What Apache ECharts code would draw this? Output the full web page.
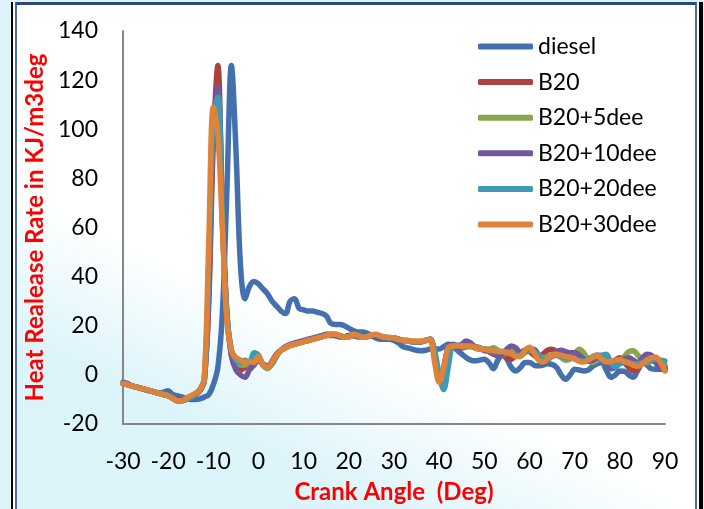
<!DOCTYPE html>
<html>
<head>
<meta charset="utf-8">
<script src="https://cdn.jsdelivr.net/npm/echarts@6/dist/echarts.min.js"></script>
<style>
  html, body { margin: 0; padding: 0; }
  body {
    width: 704px; height: 509px; overflow: hidden; position: relative;
    background: #dff4f9;
  }
  .frame {
    position: absolute; left: 11px; top: 2px; width: 692px; height: 520px;
    border-left: 2px solid #000; border-right: 4px solid #000;
    box-sizing: border-box; background: #fff;
  }
  .inner {
    position: absolute; left: 2px; top: 0; right: 2px; bottom: 0;
    border-left: 2px solid #4a6fa5; border-right: 2px solid #4a6fa5; border-top: 3px solid #2c4a78;
    background:
      linear-gradient(205deg, rgba(255,255,255,0) 60%, rgba(205,240,248,0.7) 78%, rgba(215,243,250,0.9) 100%);
  }
  #echart { position: absolute; left: 0; top: 0; width: 704px; height: 509px; }
</style>
</head>
<body>
<div class="frame"><div class="inner"></div></div>
<div id="echart"></div>
<script>
// crank angle (deg)
var angles = [
  -30, -29, -28, -27, -26, -25, -24, -23, -22, -21,
  -20, -19, -18, -17, -16, -15, -14, -13, -12, -11,
  -10, -9, -8, -7, -6, -5, -4, -3, -2, -1,
  0, 1, 2, 3, 4, 5, 6, 7, 8, 9,
  10, 11, 12, 13, 14, 15, 16, 17, 18, 19,
  20, 21, 22, 23, 24, 25, 26, 27, 28, 29,
  30, 31, 32, 33, 34, 35, 36, 37, 38, 39,
  40, 41, 42, 43, 44, 45, 46, 47, 48, 49,
  50, 51, 52, 53, 54, 55, 56, 57, 58, 59,
  60, 61, 62, 63, 64, 65, 66, 67, 68, 69,
  70, 71, 72, 73, 74, 75, 76, 77, 78, 79,
  80, 81, 82, 83, 84, 85, 86, 87, 88, 89, 90
];

var diesel = [
  -3.5, -4, -4.5, -5, -5.5, -6, -6.5, -7, -7.5, -7,
  -6.5, -8, -8.5, -9, -9.5, -10, -10, -9.8, -9, -8,
  -4, 3, 25, 75, 126, 92, 45, 31, 36, 38,
  37, 35, 33, 30, 28, 26, 25, 30, 31, 27,
  26.5, 26, 26, 25.5, 25, 24, 21, 20.5, 20.5, 20,
  19, 18, 17.5, 17.5, 17, 16, 15, 14.5, 14.5, 14.5,
  14, 13, 11.5, 11, 10.5, 10, 9.8, 10, 10.5, 10.5,
  10.5, 11.5, 12.5, 12, 10, 8.5, 7, 6, 5.7, 6,
  6.4, 5, 2.5, 6, 8, 6.4, 3, 1.6, 3, 5,
  5, 4, 3.7, 4, 4.5, 4.3, 3, 0, -1.8, 0,
  2.3, 2, 1.6, 2, 3.5, 4.5, 5, 2, -1, 0,
  1.6, 1.5, 0, -1, 2, 5, 4, 2.5, 2.3, 2.3, 2.3
];

var b20 = [
  -3.5, -4, -4.5, -5, -5.5, -6, -6.5, -7, -7.5, -8,
  -8.5, -9.5, -10, -10.5, -10, -9, -8, -6.5, -2, 30,
  95, 126, 65, 25, 8, 3, 2, 3, 5, 5.5,
  6, 4, 3.5, 5.5, 8.5, 10, 11, 12, 12.5, 13,
  13.5, 14, 14.5, 15, 15.5, 16, 16, 16, 15.5, 15.5,
  16, 16, 15.5, 15.5, 16, 16, 15.5, 15.5, 15, 15,
  15, 14.5, 14, 14, 13.5, 13.5, 13.5, 14, 14.5, 8,
  -1, 3, 11, 12, 11.5, 11, 11.5, 12, 11.5, 11,
  10, 9.5, 8.5, 8, 9, 7, 6.4, 8, 9, 10,
  9.5, 8, 7, 8.5, 10, 10.4, 9.5, 7.5, 6.5, 7,
  8, 8.5, 7, 6, 7, 8, 7.5, 6, 5, 6,
  7, 5, 3, 1.6, 2.5, 5, 6.5, 6, 5, 4, 3
];

var b20_5dee = [
  -3.5, -4, -4.5, -5, -5.5, -6, -6.5, -7, -7.5, -8,
  -8.5, -9.5, -10.5, -10.5, -10, -9, -8, -6, -2, 40,
  104, 110, 62, 24, 10, 6, 4, 4, 5, 5,
  7, 4, 2.5, 4.5, 8, 10, 11, 12, 12.5, 13,
  13.5, 14, 14.5, 15, 15.5, 16, 16.3, 16.3, 16, 15.5,
  15.5, 16, 16, 15.5, 15.5, 16, 16.3, 15.8, 15.3, 15,
  15, 14.5, 14, 13.8, 13.5, 13.5, 13.5, 14, 14.5, 7,
  -2, 2, 11, 12, 12, 11.5, 11.5, 12, 11.5, 11,
  10.5, 10.5, 11, 10, 8.5, 9, 10.5, 9, 8, 9,
  10, 9.5, 8, 7, 7.5, 8, 8, 7, 6, 6.5,
  8.5, 10.4, 9, 6, 5, 6, 7.5, 6.5, 4, 3.5,
  5, 7.5, 9.5, 9.8, 8, 6, 5, 5.5, 6, 5, 4
];

var b20_10dee = [
  -3, -3.5, -4.5, -5, -5.5, -6, -6.5, -7, -7.5, -8,
  -8.5, -9.5, -10.5, -10.5, -10, -9, -8, -6.5, -2.5, 35,
  100, 117, 68, 25, 8, 2, 0, -1, 2, 4,
  6, 4.5, 3.5, 5, 8, 10, 11.5, 12.5, 13, 13.5,
  14, 14.5, 15, 15.5, 16, 16.5, 16.5, 16, 15.5, 15.5,
  16, 16, 15.5, 15.5, 16, 16, 15.5, 15.5, 15, 15,
  15, 14.5, 14, 14, 13.5, 13.5, 13.5, 14, 14.5, 8,
  0, 3, 11, 12.5, 12, 12.5, 13.8, 13, 11, 10.5,
  10, 9.5, 8.5, 7.7, 8.5, 10.5, 11.8, 11, 9, 9.5,
  10.5, 10.4, 8, 5, 6, 8, 9.5, 10, 9.5, 9,
  9, 8, 6.5, 5.5, 6, 7, 6.5, 5, 2.5, 3,
  5, 6.5, 7, 6, 5, 7, 8.4, 8, 5, 2.5, 2.5
];

var b20_20dee = [
  -3.5, -4, -4.5, -5, -5.5, -6, -6.5, -7, -7.5, -8,
  -8.5, -9.5, -10.5, -10.5, -10, -9, -8, -6.5, -2, 45,
  105, 113, 64, 24, 10, 6, 5, 6, 5, 9,
  8, 4, 3, 4.5, 7.5, 10, 11, 12, 12.5, 13,
  13.5, 14, 14.5, 15, 15.5, 16, 16.5, 16.5, 16, 15.5,
  15.5, 16.3, 16, 15.5, 15.5, 16, 16.3, 15.8, 15.3, 15,
  15, 14.5, 14, 13.8, 13.5, 13.5, 13.5, 14, 14.5, 10,
  0, -6, 3, 11.8, 12, 12, 11.5, 11.5, 11, 10.5,
  10.5, 10, 10, 9.5, 9.5, 9, 8.5, 8, 8, 9.5,
  10.5, 9.5, 8, 6.5, 6.5, 7.5, 8, 7.5, 7, 7,
  6.5, 6, 5.5, 6.5, 7.5, 8, 8, 8.4, 5, 3.3,
  4.5, 5, 5, 4.5, 4.5, 5, 5.5, 6, 6.5, 6, 5.7
];

var b20_30dee = [
  -3.5, -4, -4.5, -5, -5.5, -5.8, -6.5, -7, -7.5, -8,
  -8.5, -9.5, -10.5, -10.5, -9.5, -8.5, -7.5, -6, -1, 55,
  109, 98, 60, 22, 10, 7, 6, 5, 5.5, 5,
  7.5, 4, 3, 5, 8, 10, 11, 12, 12.5, 13,
  13.5, 14, 14.5, 15, 15.5, 16, 16.5, 16.5, 16, 15.3,
  15.5, 16.5, 16, 15.3, 15.5, 16.3, 16.5, 15.8, 15.3, 15.3,
  15, 14.5, 14, 13.8, 13.8, 13.8, 13.8, 14, 14.5, 5,
  -3, 3, 11, 11.8, 11.8, 11.8, 11.8, 11.8, 11, 10.5,
  10.5, 10, 9.8, 9.5, 9.5, 9.2, 8.5, 7.5, 7.5, 10,
  11.2, 9, 6, 5.2, 6.5, 8, 8.4, 8, 7.5, 7.2,
  6.5, 5.5, 5.2, 6, 7.2, 7.7, 6.5, 5.2, 5.5, 6,
  6.2, 5.5, 4.8, 4, 3.5, 4.5, 6, 7, 7.2, 5, 1.6
];

var seriesNames = ["diesel", "B20", "B20+5dee", "B20+10dee", "B20+20dee", "B20+30dee"];
var seriesData = [diesel, b20, b20_5dee, b20_10dee, b20_20dee, b20_30dee];
var colors = ["#4471ad", "#aa433f", "#8aa64c", "#71589a", "#3f9ab3", "#e0833a"];

var font = "Lato, 'Open Sans', sans-serif";

function pairs(values) {
  var out = [];
  for (var i = 0; i < angles.length; i++) {
    out.push([angles[i], values[i]]);
  }
  return out;
}

var chart = echarts.init(document.getElementById("echart"));

var option = {
  backgroundColor: "transparent",
  animation: false,
  color: colors,
  grid: {
    left: 123,
    right: 39,
    top: 31,
    bottom: 84,
  },
  legend: {
    orient: "vertical",
    left: 473,
    top: 30,
    icon: "roundRect",
    itemWidth: 55,
    itemHeight: 6,
    itemGap: 12.6,
    data: seriesNames,
    textStyle: {
      fontFamily: font,
      fontSize: 23,
      color: "#000",
      lineHeight: 23,
    },
  },
  xAxis: {
    type: "value",
    min: -30,
    max: 90,
    interval: 10,
    name: "Crank Angle  (Deg)",
    nameLocation: "middle",
    nameGap: 56,
    nameTextStyle: {
      fontFamily: font,
      fontSize: 24,
      fontWeight: "bold",
      color: "#ff0000",
    },
    axisLine: {
      show: true,
      onZero: false,
      lineStyle: { color: "#868686", width: 2 },
    },
    axisTick: { show: false },
    splitLine: { show: false },
    axisLabel: {
      margin: 26,
      fontFamily: font,
      fontSize: 23,
      color: "#000",
    },
  },
  yAxis: {
    type: "value",
    min: -20,
    max: 140,
    interval: 20,
    name: "Heat Realease Rate in KJ/m3deg",
    nameLocation: "middle",
    nameGap: 73,
    nameTextStyle: {
      fontFamily: font,
      fontSize: 24,
      fontWeight: "bold",
      color: "#ff0000",
    },
    axisLine: {
      show: true,
      onZero: false,
      lineStyle: { color: "#868686", width: 2 },
    },
    axisTick: { show: false },
    splitLine: { show: false },
    axisLabel: {
      margin: 25,
      fontFamily: font,
      fontSize: 23,
      color: "#000",
    },
  },
  series: seriesNames.map(function (name, i) {
    return {
      name: name,
      type: "line",
      data: pairs(seriesData[i]),
      smooth: 0.35,
      showSymbol: false,
      symbol: "none",
      lineStyle: { width: 5.5, color: colors[i], cap: "round", join: "round" },
      z: 2 + i,
    };
  }),
};

chart.setOption(option);
</script>
</body>
</html>
